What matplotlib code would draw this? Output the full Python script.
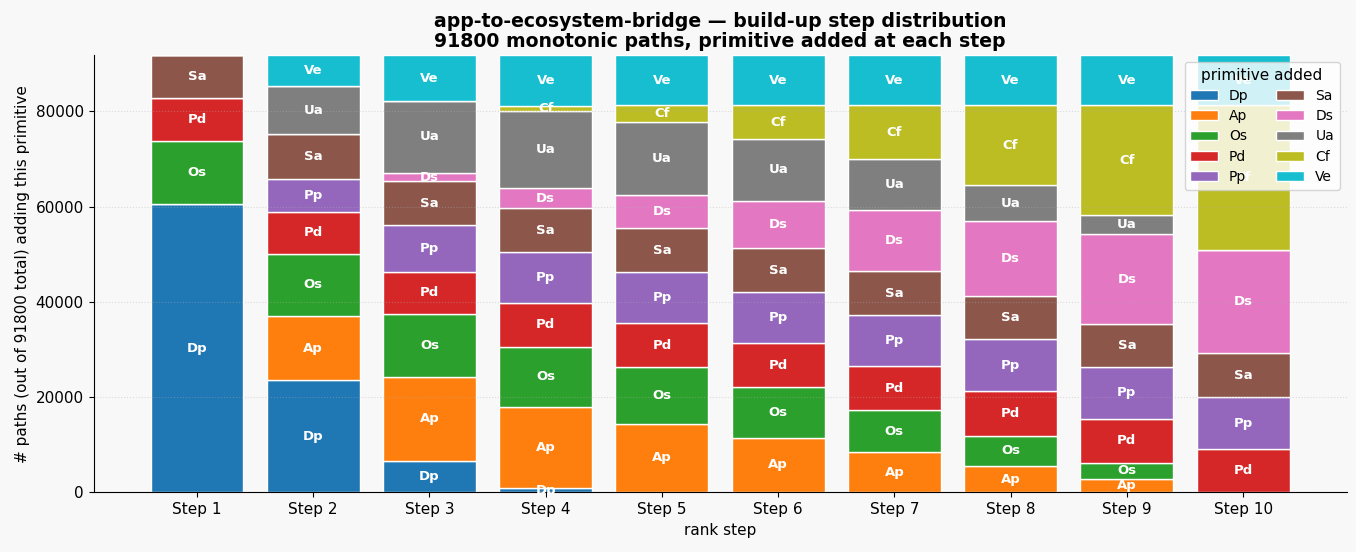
import numpy as np
import matplotlib.pyplot as plt

# step distribution, paths per primitive at each rank step
steps = ["Step 1", "Step 2", "Step 3", "Step 4", "Step 5",
         "Step 6", "Step 7", "Step 8", "Step 9", "Step 10"]
prims = ["Dp", "Ap", "Os", "Pd", "Pp", "Sa", "Ds", "Ua", "Cf", "Ve"]

Dp = [60480, 23580, 6590, 990, 0, 0, 0, 0, 0, 0]
Ap = [0, 13470, 17680, 16970, 14460, 11510, 8480, 5620, 2880, 0]
Os = [13200, 13050, 13130, 12630, 11790, 10530, 8780, 6320, 3370, 0]
Pd = [9060, 8850, 8980, 9260, 9260, 9260, 9200, 9260, 9260, 9120]
Pp = [0, 6940, 9760, 10610, 10740, 10740, 10740, 10950, 10740, 10820]
Sa = [9060, 9260, 9180, 9180, 9260, 9260, 9260, 9120, 9050, 9260]
Ds = [0, 0, 1770, 4290, 6950, 9890, 12840, 15640, 18950, 21680]
Ua = [0, 10110, 15070, 16130, 15370, 13050, 10740, 7580, 4000, 0]
Cf = [0, 0, 0, 1130, 3430, 7010, 11220, 16780, 23010, 30380]
Ve = [0, 6540, 9640, 10610, 10540, 10550, 10540, 10530, 10540, 10540]

total = 91800
counts = [Dp, Ap, Os, Pd, Pp, Sa, Ds, Ua, Cf, Ve]
colors = plt.cm.tab10.colors

fig = plt.figure(figsize=(13.56, 5.52), dpi=100, facecolor="#f8f8f8")
ax = fig.add_subplot(111)
ax.set_facecolor("#f8f8f8")
fig.subplots_adjust(left=0.069, right=0.993, bottom=0.108, top=0.9)

x = np.arange(len(steps))
bottom = np.zeros(len(steps))
for name, vals, c in zip(prims, counts, colors):
    vals = np.array(vals, dtype=float)
    ax.bar(x, vals, 0.8, bottom=bottom, color=c, edgecolor="white",
           linewidth=1, label=name)
    for i in range(len(steps)):
        if vals[i] > 0:
            ax.text(x[i], bottom[i] + vals[i] / 2, name, ha="center", va="center",
                    color="white", fontsize=9.5, fontweight="bold")
    bottom += vals

ax.set_xticks(x)
ax.set_xticklabels(steps)
ax.tick_params(labelsize=11)
ax.set_ylim(0, total)
ax.set_xlabel("rank step", fontsize=11)
ax.set_ylabel("# paths (out of %d total) adding this primitive" % total, fontsize=11)
ax.set_title("app-to-ecosystem-bridge \u2014 build-up step distribution\n"
             "%d monotonic paths, primitive added at each step" % total,
             fontsize=13.6, fontweight="bold", linespacing=1.05)
ax.grid(axis="y", linestyle=":", alpha=0.4)
ax.spines["top"].set_visible(False)
ax.spines["right"].set_visible(False)
ax.legend(title="primitive added", ncol=2, loc="upper right", fontsize=10,
          title_fontsize=11, labelspacing=0.45)

plt.savefig("out.png", dpi=100, facecolor=fig.get_facecolor())
